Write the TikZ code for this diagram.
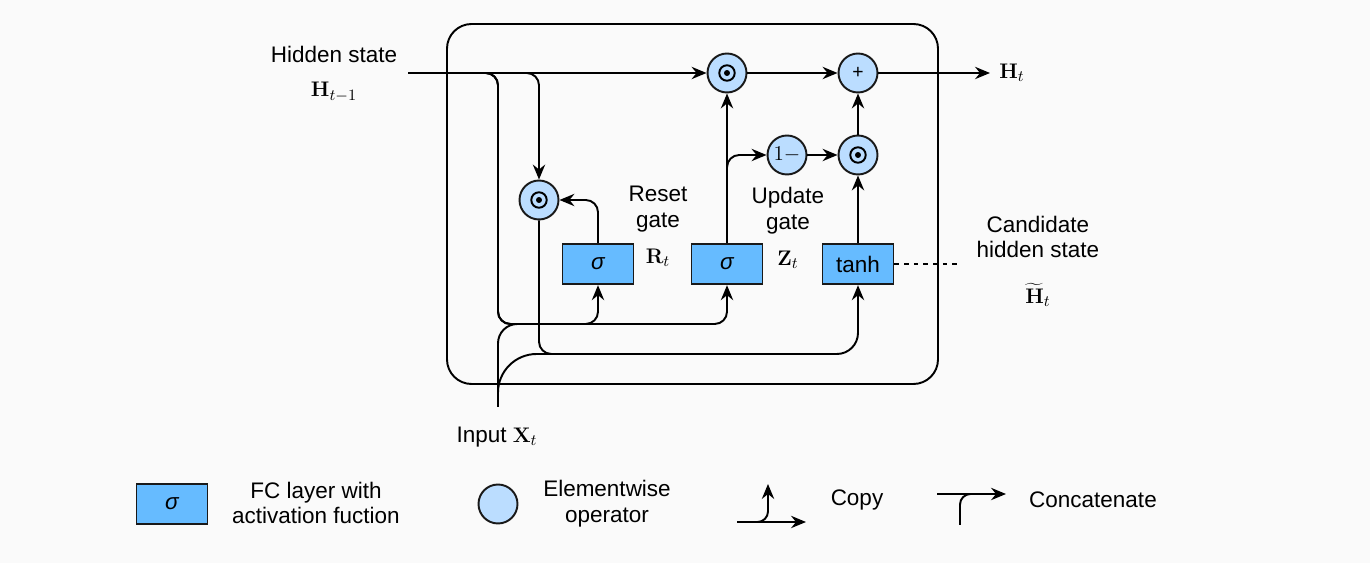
\documentclass[tikz,border=0pt]{standalone}
\usepackage[no-math]{fontspec}
\setmainfont{Liberation Sans}
\usetikzlibrary{arrows.meta}

\definecolor{fcblue}{RGB}{102,187,255}
\definecolor{opblue}{RGB}{187,221,255}
\definecolor{bggray}{RGB}{250,250,250}

\tikzset{
  fc/.style={draw=black!90, fill=fcblue, line width=1.1pt, minimum width=1.42cm, minimum height=0.81cm, inner sep=0pt},
  op/.style={circle, draw=black!90, fill=opblue, line width=1.1pt, minimum size=0.78cm, inner sep=0pt},
  wire/.style={line width=1.1pt},
  flow/.style={wire, -{Stealth[length=8.5pt,width=7pt,inset=2.8pt]}},
  lbl/.style={align=center, inner sep=1pt},
}

\begin{document}
\begin{tikzpicture}[x=0.02cm, y=-0.02cm, font=\fontsize{12.8}{14.7}\selectfont]
    \fill[bggray] (0,0) rectangle (1370,563);
    \useasboundingbox (0,0) rectangle (1370,563);

    % GRU cell
    \draw[wire, rounded corners=14pt] (447,24) rectangle (938,384);

    \node[op] (mulz) at (727,73) {};
    \node[op] (plus) at (858,73) {\fontsize{11}{12}\selectfont +};
    \node[op] (oneminus) at (787,155) {$1-$};
    \node[op] (mulh) at (858,155) {};
    \node[op] (mulr) at (539,200) {};
    \foreach \n in {mulz,mulh,mulr} {
        \draw[line width=1.1pt] (\n) circle (4.4pt);
        \fill (\n) circle (1.7pt);
    }

    \node[fc] (sigr) at (598,264) {\itshape σ};
    \node[fc] (sigz) at (727,264) {\itshape σ};
    \node[fc] (cand) at (858,264) {tanh};

    \coordinate (hin) at (408,73);
    \coordinate (xin) at (498,407);
    \coordinate (hout) at (990,73);

    % Hidden state in
    \draw[flow] (hin) -- (mulz);
    \draw[flow, rounded corners=7pt] (hin) -| (498,324) -| (sigr.south);
    \draw[flow, rounded corners=7pt] (hin) -| (498,324) -| (sigz.south);
    \draw[flow, rounded corners=7pt] (hin) -| (mulr.north);

    % Input
    \draw[wire, rounded corners=11pt] (xin) |- (560,324);
    \draw[wire, rounded corners=22pt] (xin) |- (600,354);
    \draw[flow, rounded corners=7pt] (mulr.south) |- (700,354) [rounded corners=12pt] -| (cand.south);

    % Gates
    \draw[flow, rounded corners=7pt] (sigr.north) |- (mulr.east);
    \draw[flow] (sigz.north) -- (mulz.south);
    \draw[flow, rounded corners=7pt] (sigz.north) |- (oneminus.west);
    \draw[flow] (oneminus) -- (mulh);
    \draw[flow] (cand) -- (mulh);
    \draw[flow] (mulh) -- (plus);
    \draw[flow] (mulz) -- (plus);
    \draw[flow] (plus) -- (hout);
    \draw[wire, dash pattern=on 2.5pt off 3pt] (cand.east) -- (960,264);

    % Labels
    \node (hlabel) at (334,54) {Hidden state};
    \node (hprev) at (334,92) {$\mathbf{H}_{t-1}$};
    \node (hnext) at (1012,73) {$\mathbf{H}_t$};
    \node[lbl] (rlabel) at (658,209) {Reset\\gate};
    \node (rt) at (658,258) {$\mathbf{R}_t$};
    \node[lbl] (zlabel) at (788,211) {Update\\gate};
    \node (zt) at (788,260) {$\mathbf{Z}_t$};
    \node[lbl] (clabel) at (1038,237) {Candidate\\hidden state};
    \node[inner sep=1pt] (htilde) at (1038,295) {$\widetilde{\mathbf{H}}_t$};
    \node (xlabel) at (497,437) {Input $\mathbf{X}_t$};

    % Legend
    \node[fc] (legfc) at (172,504) {\itshape σ};
    \node[lbl] (legfctext) at (316,503) {FC layer with\\activation fuction};
    \node[op] (legop) at (498,504) {};
    \node[lbl] (legoptext) at (607,504) {Elementwise\\operator};
    \draw[flow] (737,522) -- (806,522);
    \draw[flow, rounded corners=6pt] (748,522) -| (768,484);
    \node (copytext) at (857,500) {Copy};
    \draw[flow] (937,494) -- (1006,494);
    \draw[wire, rounded corners=6pt] (960,525) |- (980,494);
    \node (cattext) at (1093,500) {Concatenate};
\end{tikzpicture}
\end{document}
